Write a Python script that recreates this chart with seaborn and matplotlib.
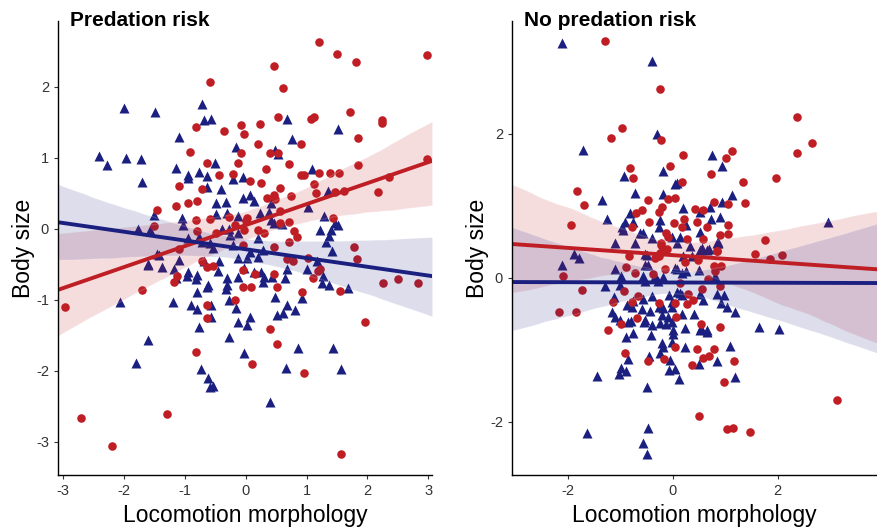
import matplotlib
matplotlib.use("Agg")
import matplotlib.pyplot as plt
import pandas as pd
import seaborn as sns
import numpy as np

# values: (locomotion morphology, body size)
pred_red = [
    (-0.59, 2.07), (-0.82, 1.44), (-0.35, 1.38), (-0.08, 1.46), (-0.03, 1.34), (-0.91, 1.08), (-0.64, 0.93),
    (-0.13, 0.93), (-0.43, 0.76), (-0.20, 0.77), (-1.10, 0.61), (-0.71, 0.56), (-0.79, 0.39), (-0.94, 0.37),
    (-1.14, 0.32), (-1.45, 0.27), (-1.50, 0.04), (-0.82, 0.13), (-0.59, 0.14), (-0.28, 0.17), (-0.79, -0.03),
    (1.20, 2.63), (1.50, 2.46), (1.81, 2.35), (2.97, 2.45), (0.46, 2.30), (0.61, 1.99), (1.71, 1.65),
    (0.53, 1.58), (1.07, 1.55), (1.12, 1.58), (2.24, 1.54), (2.24, 1.49), (0.23, 1.48), (1.85, 1.28),
    (0.91, 1.20), (0.21, 1.20), (0.40, 1.07), (0.53, 1.07), (0.71, 0.92), (1.85, 0.90), (0.33, 0.84),
    (0.91, 0.76), (0.96, 0.76), (1.20, 0.79), (1.38, 0.79), (1.53, 0.79), (2.36, 0.73), (0.08, 0.68),
    (0.25, 0.65), (1.12, 0.63), (0.56, 0.58), (2.17, 0.52), (1.15, 0.51), (1.61, 0.54), (1.47, 0.52),
    (0.46, 0.48), (0.49, 0.42), (0.74, 0.46), (0.35, 0.44), (0.56, 0.25), (0.03, 0.15), (0.71, 0.10),
    (0.56, 0.08), (1.43, 0.15), (-0.03, -0.01), (0.20, -0.01), (0.79, -0.03), (0.84, -0.11), (0.71, -0.18),
    (2.97, 0.99), (-1.10, -0.28), (-0.05, -0.23), (-0.71, -0.45), (-0.64, -0.54), (-0.53, -0.52),
    (-1.12, -0.66), (-1.17, -0.75), (-0.05, -0.82), (0.09, -0.82), (-1.70, -0.86), (-2.97, -1.10),
    (-0.18, -1.00), (-0.64, -1.08), (-0.64, -1.25), (-0.81, -1.73), (0.10, -1.90), (-2.70, -2.66),
    (-1.29, -2.61), (-2.19, -3.06), (1.78, -0.25), (1.83, -0.42), (0.46, -0.25), (0.68, -0.42),
    (0.77, -0.46), (1.02, -0.41), (1.19, -0.59), (1.22, -0.56), (1.10, -0.69), (0.15, -0.63), (0.46, -0.63),
    (0.51, -0.82), (0.92, -0.89), (1.55, -0.87), (2.26, -0.76), (2.50, -0.70), (2.83, -0.76), (1.96, -1.32),
    (0.40, -1.41), (0.51, -1.62), (0.96, -2.03), (1.57, -3.18), (-0.18, 0.06), (0.00, 0.11), (-0.49, -0.06),
    (-0.05, -0.58), (-0.08, 1.07), (0.30, -0.06),
]
pred_blue = [
    (-1.99, 1.70), (-1.48, 1.65), (-0.72, 1.76), (-0.69, 1.54), (-0.56, 1.55), (-1.10, 1.30), (-0.15, 1.15),
    (-2.41, 1.03), (-2.27, 0.90), (-1.96, 1.00), (-1.71, 0.99), (-0.51, 0.93), (-1.14, 0.86), (-0.94, 0.76),
    (-0.94, 0.72), (-0.77, 0.80), (-0.63, 0.75), (-1.70, 0.66), (-0.63, 0.59), (-0.40, 0.56), (-0.21, 0.70),
    (-0.05, 0.73), (-0.48, 0.37), (-0.33, 0.38), (-0.05, 0.44), (-1.50, 0.20), (-1.04, 0.15), (-1.02, 0.06),
    (-0.48, 0.21), (-0.30, 0.22), (-0.13, 0.18), (-1.76, 0.00), (-1.57, -0.01), (0.68, 1.55), (1.52, 1.41),
    (0.76, 1.27), (0.48, 1.11), (0.53, 1.06), (1.09, 0.84), (1.35, 0.54), (0.07, 0.48), (0.13, 0.39),
    (0.41, 0.37), (1.02, 0.31), (0.23, 0.23), (0.38, 0.24), (1.29, 0.18), (0.41, 0.13), (0.46, 0.08),
    (0.59, 0.07), (1.47, 0.08), (1.52, 0.06), (1.22, -0.01), (1.40, -0.01), (1.37, -0.10), (0.21, -0.13),
    (1.32, -0.18), (-1.45, -0.35), (-1.60, -0.49), (-1.38, -0.54), (-1.09, -0.44), (-1.17, -0.56),
    (-1.15, -0.69), (-0.94, -0.61), (-0.96, -0.66), (-0.79, -0.65), (-0.82, -0.70), (-0.68, -0.45),
    (-0.43, -0.45), (-0.46, -0.59), (-0.61, -0.79), (-0.63, -0.82), (-0.79, -0.89), (-0.31, -0.69),
    (-0.30, -0.79), (-0.33, -0.85), (-0.12, -0.68), (-0.03, -0.55), (-0.12, -0.41), (-2.06, -1.03),
    (-1.19, -1.03), (-0.89, -1.07), (-0.79, -1.13), (-0.56, -1.08), (-0.56, -1.24), (-0.28, -1.00),
    (-0.16, -1.11), (-0.76, -1.38), (-0.12, -1.32), (0.02, -1.35), (0.08, -1.24), (-0.28, -1.52),
    (-1.60, -1.56), (-0.02, -1.75), (-1.80, -1.89), (-0.74, -1.97), (-0.61, -2.10), (-0.59, -2.23),
    (-0.54, -2.21), (1.42, -0.31), (0.08, -0.32), (0.28, -0.30), (0.20, -0.39), (0.03, -0.41), (0.13, -0.61),
    (0.26, -0.61), (0.30, -0.68), (0.44, -0.68), (0.64, -0.69), (0.68, -0.56), (1.00, -0.56), (0.28, -0.75),
    (1.27, -0.66), (1.25, -0.76), (1.37, -0.79), (1.68, -0.83), (0.49, -0.96), (0.92, -0.97), (0.68, -1.08),
    (0.61, -1.18), (0.51, -1.21), (0.81, -1.15), (0.86, -1.68), (1.43, -1.68), (0.66, -1.96), (1.57, -1.97),
    (0.40, -2.44), (-0.38, 0.00), (-0.28, 0.00), (-0.25, -0.08), (-0.13, -0.06), (-0.94, -0.13),
    (-0.76, -0.11), (-0.71, -0.18), (-0.59, -0.20), (-0.53, -0.27), (-0.21, -0.23), (-1.61, -0.51),
    (-1.43, -0.37), (1.17, -0.45),
]
nopred_red = [
    (-1.29, 3.29), (-0.24, 2.63), (-0.97, 2.08), (-1.18, 1.95), (-0.22, 1.92), (0.20, 1.71), (-0.81, 1.53),
    (-0.76, 1.39), (-0.05, 1.55), (0.17, 1.33), (-1.83, 1.21), (-1.69, 1.01), (-0.47, 1.08), (-0.10, 1.10),
    (0.04, 1.11), (-0.58, 0.95), (-0.70, 0.90), (-0.21, 0.99), (-0.26, 0.91), (-0.45, 0.78), (0.03, 0.76),
    (0.22, 0.82), (0.17, 0.71), (-1.94, 0.73), (-0.12, 0.62), (-0.09, 0.57), (0.27, 0.54), (-0.23, 0.48),
    (2.37, 2.23), (2.66, 1.88), (2.38, 1.74), (1.97, 1.39), (1.13, 1.76), (1.01, 1.66), (0.73, 1.45),
    (1.35, 1.33), (1.37, 1.04), (0.78, 1.05), (1.05, 1.03), (0.43, 0.96), (0.57, 0.95), (0.46, 0.77),
    (0.65, 0.71), (1.06, 0.73), (1.06, 0.61), (0.90, 0.59), (0.57, 0.54), (1.77, 0.52), (-2.10, 0.03),
    (-1.74, -0.17), (-2.18, -0.47), (-1.84, -0.48), (-1.23, -0.73), (-0.99, -0.64), (-1.15, -0.33),
    (-0.94, -0.18), (-0.89, 0.15), (-0.72, 0.07), (-0.83, 0.30), (-0.67, -0.25), (-0.78, -0.34),
    (-0.68, -0.56), (-0.91, -1.05), (-0.48, -1.15), (-0.16, -1.13), (0.04, -0.96), (0.06, -0.55),
    (-0.37, 0.05), (-0.15, 0.13), (0.14, -0.07), (-0.27, -0.35), (0.04, -0.35), (0.29, -0.23), (0.27, -0.37),
    (-0.34, 0.27), (-0.24, 0.34), (-0.11, 0.40), (0.23, 0.22), (1.57, 0.33), (1.86, 0.26), (2.08, 0.32),
    (0.85, 0.37), (0.49, 0.25), (0.92, 0.17), (0.81, 0.09), (0.68, -0.01), (0.90, -0.11), (0.55, -0.15),
    (0.39, -0.31), (0.53, -0.64), (0.90, -0.68), (0.46, -0.99), (0.79, -0.99), (0.70, -1.08), (0.57, -1.12),
    (0.37, -1.21), (1.16, -1.16), (0.97, -1.45), (3.14, -1.70), (0.51, -1.92), (1.03, -2.10), (1.15, -2.09),
    (1.48, -2.14), (-0.77, 0.71), (-0.23, 0.45), (-0.18, 0.39), (-0.27, 0.30), (0.78, 0.16), (0.84, 0.37),
]
nopred_blue = [
    (-2.12, 3.26), (-0.40, 3.02), (-0.30, 2.00), (-1.71, 1.78), (-0.18, 1.48), (-0.94, 1.42), (0.04, 1.31),
    (0.08, 1.32), (-0.73, 1.18), (-0.19, 1.17), (-1.35, 1.08), (0.19, 0.97), (-0.81, 0.90), (-0.75, 0.78),
    (-0.91, 0.77), (-0.97, 0.70), (-0.95, 0.67), (-1.25, 0.82), (-0.25, 0.81), (-0.27, 0.71), (-0.62, 0.63),
    (-0.56, 0.63), (-0.40, 0.56), (-0.02, 0.57), (0.14, 0.57), (-1.10, 0.48), (-0.72, 0.48), (0.74, 1.71),
    (0.94, 1.55), (1.14, 1.15), (0.94, 1.06), (0.71, 0.99), (0.52, 0.92), (0.90, 0.85), (0.73, 0.82),
    (0.25, 0.74), (0.52, 0.64), (0.86, 0.50), (2.97, 0.77), (-2.12, 0.18), (-1.88, 0.33), (-1.79, 0.28),
    (-0.53, 0.33), (-1.10, 0.13), (-0.98, 0.03), (-0.48, 0.18), (-0.56, 0.03), (-0.53, -0.05), (-0.34, 0.02),
    (-0.29, -0.05), (-0.18, 0.01), (0.04, 0.14), (0.09, 0.13), (-1.29, -0.12), (-1.01, -0.10), (-1.13, -0.26),
    (-0.40, -0.25), (-0.08, -0.24), (0.08, -0.19), (0.17, -0.24), (-0.88, -0.38), (-0.78, -0.40),
    (-0.59, -0.43), (-0.43, -0.46), (-0.27, -0.41), (-0.18, -0.42), (-0.02, -0.40), (-1.16, -0.48),
    (-1.10, -0.54), (-1.01, -0.58), (-0.85, -0.62), (-0.80, -0.60), (-0.53, -0.58), (-0.54, -0.62),
    (-0.40, -0.66), (-0.24, -0.63), (-0.13, -0.64), (-0.02, -0.61), (-0.21, -0.51), (-0.10, -0.54),
    (-0.76, -0.77), (-0.89, -0.82), (-0.42, -0.79), (0.00, -0.72), (0.01, -0.78), (-0.02, -0.89),
    (-0.21, -0.91), (-0.18, -0.96), (-0.24, -1.04), (0.23, -0.69), (0.23, -0.96), (-0.45, -1.09),
    (-0.85, -1.13), (-0.99, -1.25), (-0.90, -1.29), (-1.02, -1.34), (-1.45, -1.36), (-0.05, -1.14),
    (-0.08, -1.28), (0.04, -1.26), (0.11, -1.40), (-0.50, -1.51), (-1.64, -2.16), (-0.47, -2.08),
    (-0.56, -2.29), (-0.50, -2.45), (0.55, 0.41), (0.70, 0.40), (0.85, 0.48), (0.36, 0.30), (0.25, 0.10),
    (0.50, 0.11), (0.81, 0.03), (0.17, 0.07), (0.52, -0.22), (0.84, -0.23), (0.97, -0.24), (0.93, -0.35),
    (1.03, -0.40), (1.19, -0.47), (0.17, -0.50), (0.41, -0.50), (0.53, -0.70), (0.66, -0.75), (1.65, -0.68),
    (2.02, -0.71), (1.09, -0.95), (0.85, -1.15), (0.51, -1.20), (1.18, -1.38), (0.08, 0.48), (0.33, 0.44),
    (0.52, 0.39), (0.65, 0.39), (0.87, 0.48), (-0.50, 0.32), (-0.53, 0.18), (0.20, 0.30), (-0.75, -0.32),
    (-0.56, -0.30), (-0.02, -0.33), (0.14, -0.21), (0.58, -0.31), (0.65, -0.72), (0.52, -0.72),
]

RED = "#BE1E24"
BLUE = "#1B2080"

sns.set_theme(style="ticks")
plt.rcParams["font.family"] = ["Liberation Sans", "DejaVu Sans"]
plt.rcParams["axes.unicode_minus"] = False

fig = plt.figure(figsize=(8.77, 5.27), dpi=100)
ax1 = fig.add_axes([58 / 877, 52 / 527, 374 / 877, 454 / 527])
ax2 = fig.add_axes([512 / 877, 52 / 527, 365 / 877, 454 / 527])

panels = [
    (ax1, pred_red, pred_blue, "Predation risk", (-3.08, 3.06), (-3.47, 2.93), [-3, -2, -1, 0, 1, 2, 3], [-3, -2, -1, 0, 1, 2]),
    (ax2, nopred_red, nopred_blue, "No predation risk", (-3.07, 3.9), (-2.74, 3.57), [-2, 0, 2], [-2, 0, 2]),
]

for ax, red, blue, title, xlim, ylim, xt, yt in panels:
    dr = pd.DataFrame(red, columns=["x", "y"])
    db = pd.DataFrame(blue, columns=["x", "y"])
    ax.set_xlim(*xlim)
    ax.set_ylim(*ylim)
    sns.scatterplot(data=db, x="x", y="y", ax=ax, marker="^", color=BLUE, s=52, linewidth=0)
    sns.scatterplot(data=dr, x="x", y="y", ax=ax, marker="o", color=RED, s=38, linewidth=0)
    sns.regplot(data=dr, x="x", y="y", ax=ax, scatter=False, truncate=False, color=RED,
                n_boot=1000, seed=3, line_kws={"lw": 2.8})
    sns.regplot(data=db, x="x", y="y", ax=ax, scatter=False, truncate=False, color=BLUE,
                n_boot=1000, seed=3, line_kws={"lw": 2.8})
    ax.set_xlim(*xlim)
    ax.set_ylim(*ylim)
    ax.set_xticks(xt)
    ax.set_yticks(yt)
    ax.set_xlabel("Locomotion morphology", fontsize=16.5, labelpad=4, color="black")
    ax.set_ylabel("Body size", fontsize=16.5, labelpad=1, color="black")
    ax.tick_params(labelsize=10.5, length=3, width=0.8, colors="#333333", labelcolor="#333333")
    sns.despine(ax=ax)
    for s in ["left", "bottom"]:
        ax.spines[s].set_linewidth(1.0)
        ax.spines[s].set_color("black")
    bbox = ax.get_position()
    fig.text(bbox.x0 + 12 / 877, 1 - 26 / 527, title, fontsize=15, fontweight="bold",
             va="baseline", color="black")

fig.savefig("out.png", dpi=100)
